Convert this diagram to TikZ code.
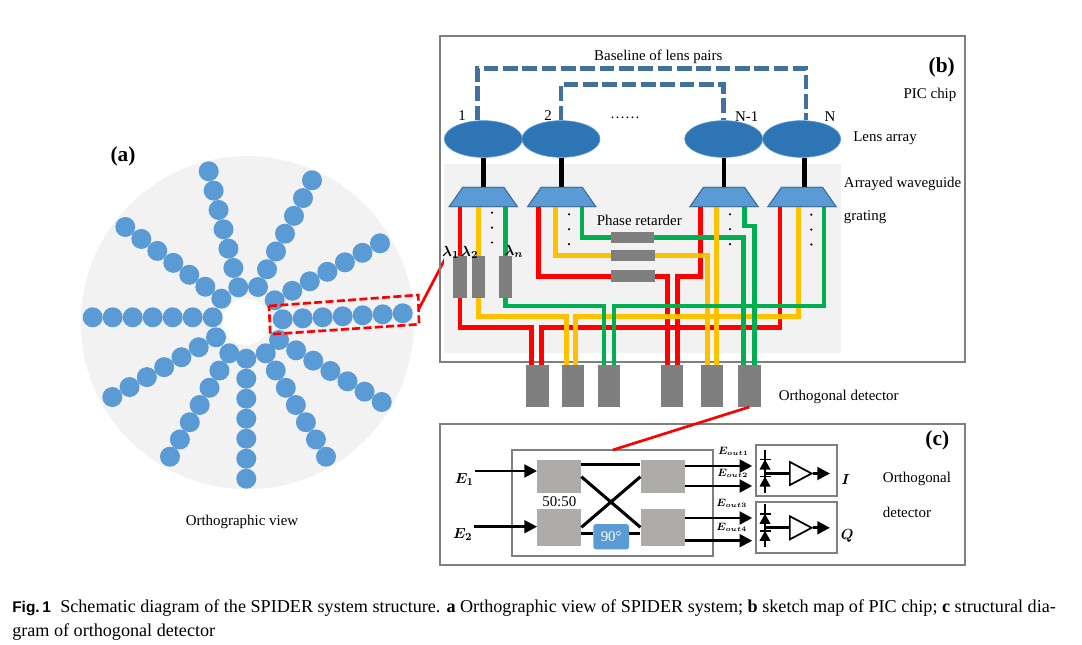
\documentclass[tikz,border=0pt]{standalone}
\usepackage{amsmath,amssymb}
\usepackage{fontspec}
\setmainfont{Liberation Serif}
\setsansfont{Liberation Sans}
\usetikzlibrary{arrows.meta,calc,positioning,shapes.geometric}

\definecolor{chipgray}{HTML}{F2F2F2}
\definecolor{framegray}{HTML}{7F7F7F}
\definecolor{couplergray}{HTML}{AEABAB}
\definecolor{dotblue}{HTML}{5B9BD5}
\definecolor{lensblue}{HTML}{2E75B6}
\definecolor{edgeblue}{HTML}{41719C}
\definecolor{wirered}{HTML}{FF0000}
\definecolor{wireyellow}{HTML}{FFC000}
\definecolor{wiregreen}{HTML}{00B050}

\begin{document}
\begin{tikzpicture}[x=0.75pt,y=-0.75pt,>=Latex,
  frame/.style={draw=framegray,line width=1.5pt},
  lens/.style={ellipse,fill=lensblue,draw=dotblue,line width=0.5pt,minimum width=58.5pt,minimum height=27.5pt,inner sep=0pt},
  awg/.style={trapezium,trapezium left angle=55,trapezium right angle=55,fill=dotblue,draw=edgeblue,line width=0.8pt,minimum width=38.2pt,minimum height=14.5pt,inner sep=0pt,execute at begin node=\phantom{.}},
  feed/.style={line width=3.4pt},
  base/.style={draw=edgeblue,line width=3.7pt,dash pattern=on 11pt off 3.5pt},
  red/.style={draw=wirered,line width=3.4pt},
  yellow/.style={draw=wireyellow,line width=3.4pt},
  green/.style={draw=wiregreen,line width=3.4pt},
  block/.style={fill=framegray,inner sep=0pt},
  coupler/.style={fill=couplergray,inner sep=0pt},
  signal/.style={line width=2.1pt,-{Triangle[length=9.5pt,width=9.5pt]}},
  cross/.style={line width=2.3pt},
  amp/.style={isosceles triangle,isosceles triangle apex angle=56,draw=black,line width=1.3pt,fill=white,minimum height=16.3pt,inner sep=0pt,execute at begin node=\phantom{.}},
  pointer/.style={draw=wirered,line width=2pt},
  lbl/.style={font=\fontsize{11.2}{13}\selectfont,inner sep=0pt,yshift=-1.2pt},
  tag/.style={font=\fontsize{16}{18}\selectfont\bfseries,inner sep=0pt},
  capline/.style={anchor=base west,inner sep=0pt,font=\fontsize{13.6}{15}\selectfont}]

\useasboundingbox (0,0) rectangle (1082,645);

\fill[chipgray] (247.3,322.7) circle[radius=124.9pt];
\fill[white] (245.7,321.7) circle[radius=17.5pt];

\foreach \ax/\ay/\bx/\by in {
  282.7/319.3/402.7/313.3, 212.7/317.3/92.7/317.3, 221.3/298.7/125.3/227,
  238.3/287.3/208.7/171.3, 258/287/312/180.3, 274.7/300.3/380/243.3,
  279/340/381.7/402, 265.7/353.3/326/456.7, 246.3/358.7/246.3/478.7,
  229.3/353.3/170/456.7, 216/337.3/112.3/397}
  \foreach \k in {0,...,6}
    \fill[dotblue] ($(\ax,\ay)!\k/6!(\bx,\by)$) circle[radius=7.5pt];

\draw[pointer,dash pattern=on 6pt off 2.5pt] (269,306)--(418.3,295)--(419,324.3)--(270.3,334.3)--cycle;
\coordinate (tipL) at (445,259);
\coordinate (tipR) at (418.3,310);
\draw[pointer] (tipR)--(tipL);

\node[tag] (tagA) at (123,156) {(a)};
\node[lbl] (viewL) at (242,520) {Orthographic view};

\draw[frame] (440,36) rectangle (965,361.7);
\fill[chipgray] (444.3,164) rectangle (840.7,353.3);

\node[lens] (lensA) at (483.3,139) {};
\node[lens] (lensB) at (561,139) {};
\node[lens] (lensC) at (723.7,139) {};
\node[lens] (lensD) at (801.7,139) {};

\coordinate (baseA) at (640,68.3);
\coordinate (baseB) at (640,84.3);
\draw[base] ([xshift=-4.2pt]lensA.north) |- (baseA) -| ([xshift=3.2pt]lensD.north);
\draw[base] (lensB.north) |- (baseB) -| (lensC.north);

\node[awg] (awgA) at (483.3,197) {};
\node[awg] (awgB) at (561.7,197) {};
\node[awg] (awgC) at (724,197) {};
\node[awg] (awgD) at (802,197) {};

\draw[feed] (awgA.north|-lensA.south) -- (awgA.north);
\draw[feed] (awgB.north|-lensB.south) -- (awgB.north);
\draw[feed] (awgC.north|-lensC.south) -- (awgC.north);
\draw[feed] ([xshift=2pt]awgD.north|-lensD.south) -- ([xshift=2pt]awgD.north);

\node[block,minimum width=10pt,minimum height=31.3pt] (muxR) at (460,276.8) {};
\node[block,minimum width=10pt,minimum height=31.3pt] (muxY) at (478.5,276.8) {};
\node[block,minimum width=10pt,minimum height=31.3pt] (muxG) at (505.5,276.8) {};

\node[block,minimum width=16.8pt,minimum height=31.2pt] (detA) at (537.5,385.9) {};
\node[block,minimum width=16.8pt,minimum height=31.2pt] (detB) at (573.2,385.9) {};
\node[block,minimum width=16.8pt,minimum height=31.2pt] (detC) at (608.9,385.9) {};
\node[block,minimum width=16.8pt,minimum height=31.2pt] (detD) at (672.2,385.9) {};
\node[block,minimum width=16.8pt,minimum height=31.2pt] (detE) at (711.7,385.9) {};
\node[block,minimum width=16.8pt,minimum height=31.2pt] (detF) at (749.4,385.9) {};

\draw[red] (460,206.7)--(460,327.3)--(531.7,327.3)--(531.7,365);
\draw[red] (780,206.7)--(780,327.3)--(541.7,327.3)--(541.7,365);
\draw[red] (538.3,206.7)--(538.3,276.7)--(667.7,276.7)--(667.7,365);
\draw[red] (700.7,206.7)--(700.7,276.7)--(677.3,276.7)--(677.3,365);

\draw[yellow] (478.3,206.7)--(478.3,316.7)--(566.7,316.7)--(566.7,365);
\draw[yellow] (798.3,206.7)--(798.3,316.7)--(575.7,316.7)--(575.7,365);
\draw[yellow] (555.7,206.7)--(555.7,255.3)--(707.7,255.3)--(707.7,365);

\draw[green] (582,206.7)--(582,237.7)--(743.7,237.7)--(743.7,365);
\draw[green] (744.3,206.7)--(744.3,226)--(754.7,226)--(754.7,365);
\draw[yellow] (716.7,206.7)--(716.7,365);
\draw[green] (505.5,206.7)--(505.5,306)--(604,306)--(604,365);
\draw[green] (824,206.7)--(824,306)--(614,306)--(614,365);

\foreach \p in {A,B,C,D} \node[awg] at (awg\p) {};

\node[block,minimum width=10pt,minimum height=31.3pt] at (muxR) {};
\node[block,minimum width=10pt,minimum height=31.3pt] at (muxY) {};
\node[block,minimum width=10pt,minimum height=31.3pt] at (muxG) {};

\node[block,minimum width=32.5pt,minimum height=8.6pt] (retG) at (632.7,237.7) {};
\node[block,minimum width=33pt,minimum height=8.6pt] (retY) at (633,255.3) {};
\node[block,minimum width=32.8pt,minimum height=9pt] (retR) at (632.8,276.3) {};

\foreach \x/\y in {492/212.7,569/214.3,730/214.3,811.3/214.7}
  \foreach \k in {0,1,2}
    \fill (\x,\y+\k*14.9) circle[radius=0.9pt];

\node[lbl] (baseL) at (658.3,55) {Baseline of lens pairs};
\node[lbl] (numA) at (462,114) {1};
\node[lbl] (numB) at (548,114) {2};
\node[lbl] (numDots) at (625,116) {\ldots\ldots};
\node[lbl] (numC) at (746.7,115) {N-1};
\node[lbl] (numD) at (830,115) {N};
\node[tag] (tagB) at (941.7,67.3) {(b)};
\node[lbl] (chipL) at (930,93) {PIC chip};
\node[lbl] (lensL) at (885,136.7) {Lens array};
\node[lbl,anchor=west] (awgL) at (843.7,182.7) {Arrayed waveguide};
\node[lbl,anchor=west] (gratL) at (843.7,216) {grating};
\node[lbl] (retL) at (639.3,218.3) {Phase retarder};
\node[lbl] (detL) at (838.7,395) {Orthogonal detector};
\node[lbl] (lamA) at (450.7,250.7) {$\boldsymbol{\lambda_1}$};
\node[lbl] (lamB) at (469.7,250.7) {$\boldsymbol{\lambda_2}$};
\node[lbl] (lamC) at (514,250) {$\boldsymbol{\lambda_n}$};

\draw[frame] (440,424.3) rectangle (965,564.7);
\node[frame,inner sep=0pt,minimum width=150.3pt,minimum height=79.5pt] (mixer) at (612.5,503) {};
\coordinate (mixT) at (612.7,450);
\draw[pointer] (detF.south) -- (mixT);

\node[coupler,minimum width=32.8pt,minimum height=24.8pt] (cplA) at (559.2,476.5) {};
\node[coupler,minimum width=33pt,minimum height=24.8pt] (cplB) at (662.7,476.5) {};
\node[coupler,minimum width=32.8pt,minimum height=27.5pt] (cplC) at (559.2,527.7) {};
\node[coupler,minimum width=33pt,minimum height=27.5pt] (cplD) at (662.7,527.7) {};
\node[rounded corners=2pt,fill=dotblue,text=white,font=\fontsize{11.2}{13}\selectfont,inner sep=0pt,minimum width=26.7pt,minimum height=19pt] (shift) at (611.2,536.7) {90\textdegree};

\coordinate (portE) at (475,471);
\coordinate (portF) at (474.3,526.7);
\draw[signal] (portE) -- (portE-|cplA.west);
\draw[signal] (portF) -- (portF-|cplC.west);
\draw[cross] (cplA.east|-0,464.3) -- (cplB.west|-0,464.3);
\draw[cross] (cplA.east|-0,476.7) -- (cplD.west|-0,527.3);
\draw[cross] (cplC.east|-0,527.3) -- (cplB.west|-0,476.7);
\draw[cross] (cplC.east|-0,533.7) -- (shift.west|-0,533.7);
\draw[cross] (shift.east|-0,533.7) -- (cplD.west|-0,533.7);

\node[lbl] (inA) at (464.3,477.5) {$\boldsymbol{E_1}$};
\node[lbl] (inB) at (462.7,532.5) {$\boldsymbol{E_2}$};
\node[lbl] (ratio) at (559.3,500.3) {50:50};

\node[frame,inner sep=0pt,minimum width=61.2pt,minimum height=38.2pt] (readI) at (796.5,470.8) {};
\node[frame,inner sep=0pt,minimum width=61.2pt,minimum height=38.2pt] (readQ) at (796.5,527.8) {};

\foreach \y in {466,486,518,540.7}
  \draw[signal] (cplB.east|-0,\y) -- (752.3,\y);
\node[lbl] (outA) at (733.3,449.5) {\footnotesize$\boldsymbol{E_{\scriptscriptstyle out1}}$};
\node[lbl] (outB) at (732.7,471.5) {\footnotesize$\boldsymbol{E_{\scriptscriptstyle out2}}$};
\node[lbl] (outC) at (731.7,502) {\footnotesize$\boldsymbol{E_{\scriptscriptstyle out3}}$};
\node[lbl] (outD) at (731.7,526) {\footnotesize$\boldsymbol{E_{\scriptscriptstyle out4}}$};

\foreach \n/\y in {I/473.5,Q/527.8} {
  \node[amp,anchor=lower side] (amp\n) at (789,\y) {};
  \draw[line width=2pt] (765,\y-23.5)--(765,\y+19.5);
  \draw[line width=2pt] (765,\y)--(amp\n.lower side);
  \foreach \d in {-9,8} {
    \fill (759.5,\y+\d+5)--(770.5,\y+\d+5)--(765,\y+\d-5)--cycle;
    \draw[line width=1.2pt] (759.5,\y+\d-5)--(770.5,\y+\d-5);
  }
  \draw[signal] (amp\n.apex) -- (830,\y);
}

\node[lbl] (outI) at (845.7,478) {$\boldsymbol{I}$};
\node[lbl] (outQ) at (847.3,534.5) {$\boldsymbol{Q}$};
\node[tag] (tagC) at (937.3,440.7) {(c)};
\node[lbl,anchor=west] (orthA) at (882.7,477.3) {Orthogonal};
\node[lbl,anchor=west] (orthB) at (882.7,510.7) {detector};

\node[capline] (capA) at (12,612.5) {{\fontsize{11.6}{13}\selectfont\sffamily\bfseries Fig.\,1}\hspace{7pt}Schematic diagram of the SPIDER system structure. \textbf{a} Orthographic view of SPIDER system; \textbf{b} sketch map of PIC chip; \textbf{c} structural dia-};
\node[capline] (capB) at (12,636) {gram of orthogonal detector};
\end{tikzpicture}
\end{document}
